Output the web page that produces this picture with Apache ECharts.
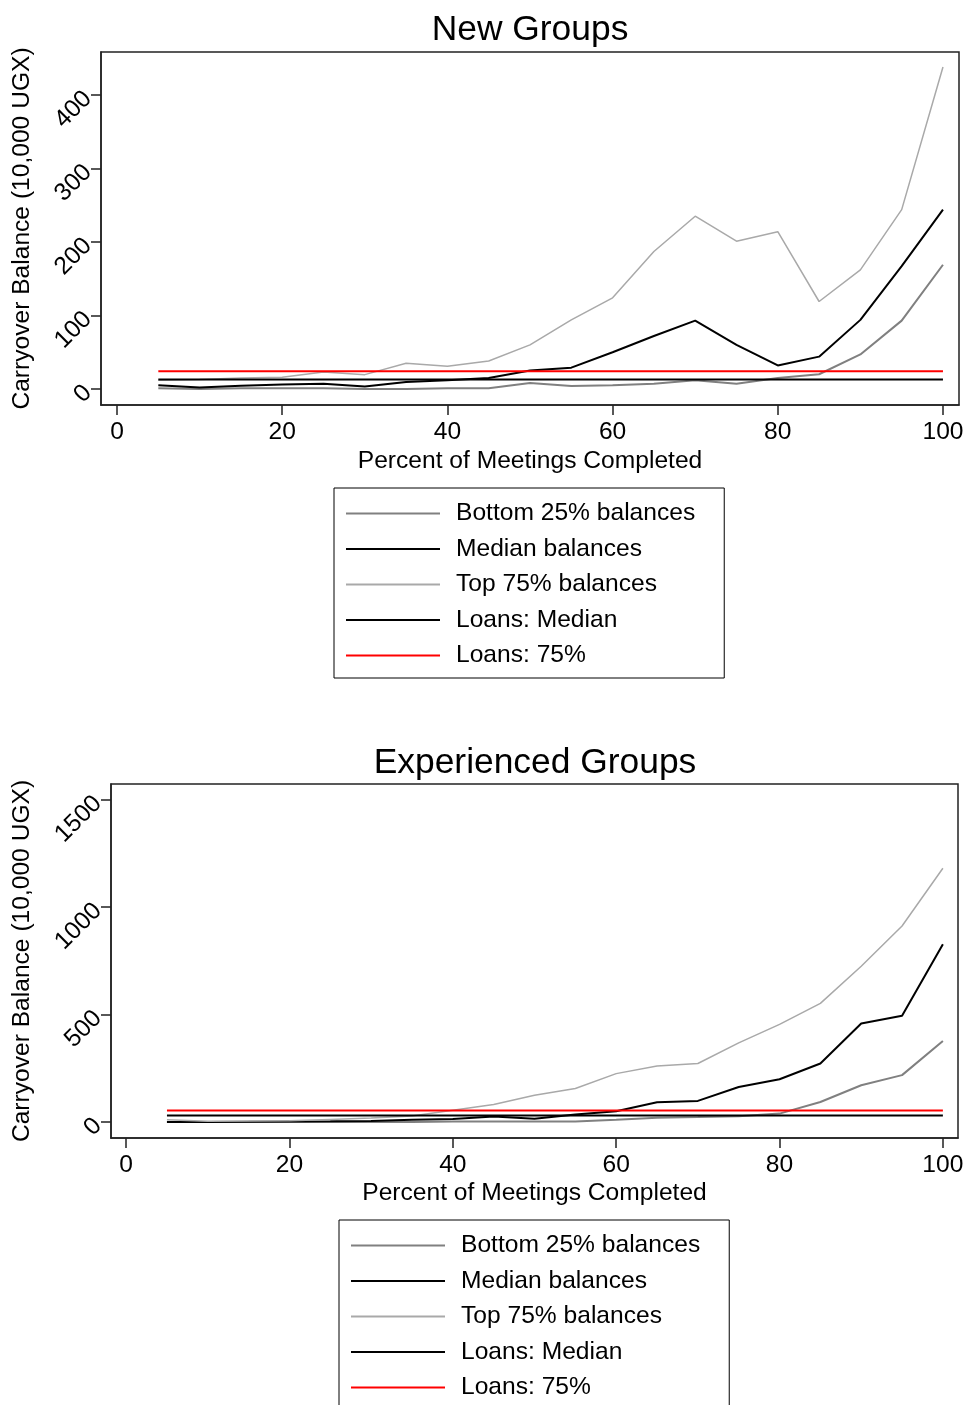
<!DOCTYPE html>
<html>
<head>
<meta charset="utf-8">
<script src="https://cdn.jsdelivr.net/npm/echarts@6/dist/echarts.min.js"></script>
<style>
  html, body { margin: 0; padding: 0; background: #fff; overflow: hidden; }
  #main { width: 968px; height: 1470px; }
</style>
</head>
<body>
<div id="main"></div>
<script>
// percent of meetings completed
var pct = [5, 10, 15, 20, 25, 30, 35, 40, 45, 50, 55, 60, 65, 70, 75, 80, 85, 90, 95, 100];
var xTicks = [0, 20, 40, 60, 80, 100];

// New Groups
var newBottom = [1, 0, 1, 1, 1, 0, 0, 1, 1, 8, 4, 5, 7, 12, 7, 15, 20, 47, 93, 169];
var newMedian = [5, 2, 4.5, 6, 7, 3.5, 9.5, 12, 15, 25, 29, 50, 72, 93, 60, 32, 44, 94, 167, 244];
var newTop = [12, 13, 15, 16, 23, 19.5, 35, 31, 38, 60, 94, 124, 187, 235, 201, 214, 119, 162, 244, 438];
var newLoanMedian = 13;
var newLoan75 = 24;
var newYTicks = [0, 100, 200, 300, 400];

// Experienced Groups
var expBottom = [0, 0, 0, 0, 0, 0, 0, 2, 2, 2, 2, 10, 20, 23, 27, 39, 93, 171, 218, 377];
var expMedian = [0, 0, 1, 2, 3, 5, 10, 14, 25, 15, 35, 50, 92, 98, 163, 199, 272, 458, 494, 827];
var expTop = [10, 3, 4, 6, 12, 18, 28, 55, 81, 124, 156, 225, 261, 272, 368, 454, 552, 725, 912, 1181];
var expLoanMedian = 30;
var expLoan75 = 53;
var expYTicks = [0, 500, 1000, 1500];

var names = ['Bottom 25% balances', 'Median balances', 'Top 75% balances', 'Loans: Median', 'Loans: 75%'];
var colors = ['#808080', '#000000', '#a9a9a9', '#000000', '#ff0000'];
var widths = [2, 2, 1.5, 2, 2];

var FONT = '"Liberation Sans", Arial, Helvetica, sans-serif';
var FS = 24.6;

function pairs(ys) {
    return pct.map(function (x, i) { return [x, ys[i]]; });
}
function flat(v) {
    return [[pct[0], v], [pct[pct.length - 1], v]];
}

function makeSeries(idx, lists) {
    return lists.map(function (d, i) {
        return {
            name: names[i],
            type: 'line',
            xAxisIndex: idx,
            yAxisIndex: idx,
            data: d,
            symbol: 'none',
            color: colors[i],
            lineStyle: { color: colors[i], width: widths[i] },
            z: i === 4 ? 3 : 2
        };
    });
}

function xAxisOf(idx, min, max, gap) {
    return {
        type: 'value',
        gridIndex: idx,
        min: min,
        max: max,
        name: 'Percent of Meetings Completed',
        nameLocation: 'middle',
        nameGap: gap,
        nameTextStyle: { fontFamily: FONT, fontSize: FS, color: '#000' },
        axisLine: { show: true, onZero: false, lineStyle: { color: '#222', width: 1.5 } },
        axisTick: { show: true, inside: false, length: 10, customValues: xTicks, lineStyle: { color: '#222', width: 1.5 } },
        axisLabel: { customValues: xTicks, margin: 15, fontFamily: FONT, fontSize: FS, color: '#000' },
        splitLine: { show: false }
    };
}

function yAxisOf(idx, min, max, ticks, gap) {
    return {
        type: 'value',
        gridIndex: idx,
        min: min,
        max: max,
        name: 'Carryover Balance (10,000 UGX)',
        nameLocation: 'middle',
        nameGap: gap,
        nameTextStyle: { fontFamily: FONT, fontSize: FS, color: '#000' },
        axisLine: { show: true, onZero: false, lineStyle: { color: '#222', width: 1.5 } },
        axisTick: { show: true, inside: false, length: 10, customValues: ticks, lineStyle: { color: '#222', width: 1.5 } },
        axisLabel: {
            customValues: ticks, rotate: 45, margin: 13,
            formatter: function (v) { return String(v); },
            fontFamily: FONT, fontSize: FS, color: '#000'
        },
        splitLine: { show: false }
    };
}

function legendOf(left, top) {
    return {
        orient: 'vertical',
        left: left,
        top: top,
        data: names,
        icon: 'rect',
        itemWidth: 94,
        itemHeight: 2,
        itemGap: 10.5,
        padding: [13, 29, 10, 12],
        borderColor: '#000',
        borderWidth: 1,
        selectedMode: false,
        textStyle: { fontFamily: FONT, fontSize: FS, lineHeight: 24, color: '#000', padding: [0, 0, 0, 11] }
    };
}

var option = {
    animation: false,
    backgroundColor: '#fff',
    title: [
        { text: 'New Groups', left: 525, top: 8, textAlign: 'center',
          textStyle: { fontFamily: FONT, fontSize: 35.4, fontWeight: 'normal', color: '#000' } },
        { text: 'Experienced Groups', left: 530, top: 741, textAlign: 'center',
          textStyle: { fontFamily: FONT, fontSize: 35.4, fontWeight: 'normal', color: '#000' } }
    ],
    grid: [
        { left: 101, top: 52, width: 858, height: 353, show: true, borderColor: '#222', borderWidth: 1.5 },
        { left: 111, top: 784, width: 847, height: 354, show: true, borderColor: '#222', borderWidth: 1.5 }
    ],
    xAxis: [
        xAxisOf(0, -1.94, 101.94, 44),
        xAxisOf(1, -1.85, 101.85, 43)
    ],
    yAxis: [
        yAxisOf(0, -21.8, 458.4, newYTicks, 66),
        yAxisOf(1, -74.6, 1573, expYTicks, 76)
    ],
    legend: [
        legendOf(334, 488),
        legendOf(339, 1220)
    ],
    series: makeSeries(0, [pairs(newBottom), pairs(newMedian), pairs(newTop), flat(newLoanMedian), flat(newLoan75)])
        .concat(makeSeries(1, [pairs(expBottom), pairs(expMedian), pairs(expTop), flat(expLoanMedian), flat(expLoan75)]))
};

var myChart = echarts.init(document.getElementById('main'));
myChart.setOption(option);
</script>
</body>
</html>
